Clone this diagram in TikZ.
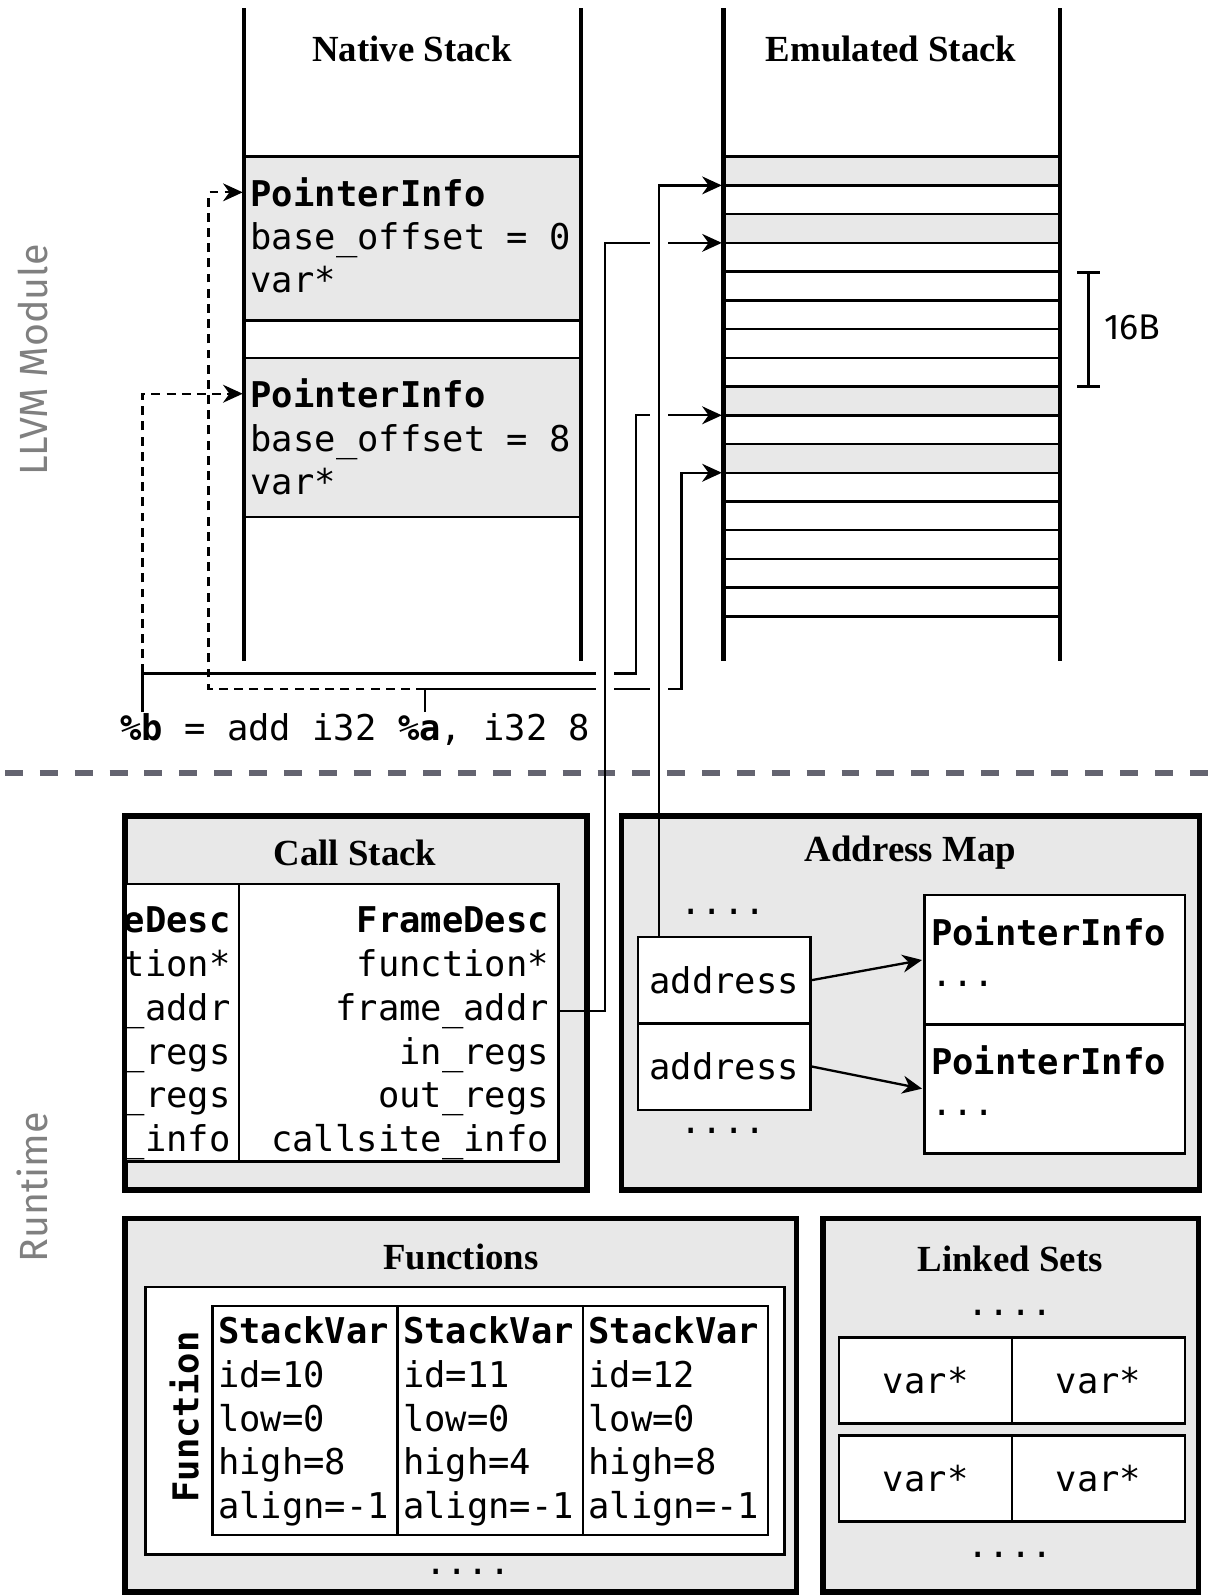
\documentclass[tikz,border=0pt]{standalone}
\usepackage{fontspec}
\setmainfont{Liberation Serif}
\setsansfont{Fira Sans}
\setmonofont{DejaVu Sans Mono}
\usetikzlibrary{arrows.meta, positioning, calc}
\definecolor{boxgray}{RGB}{232,232,232}
\definecolor{sidegray}{RGB}{128,128,128}
\definecolor{rulegray}{RGB}{100,100,112}
\newcommand{\codefont}{\ttfamily\fontsize{19.85pt}{24.5pt}\selectfont}
\newcommand{\bridge}[1]{\fill[white] (#1) ++(-9,-4.5) rectangle ++(18,9);}
\tikzset{
  title/.style={font=\bfseries\fontsize{20.6pt}{24pt}\selectfont, inner sep=0pt},
  code/.style={font=\codefont, inner sep=0pt},
  codeb/.style={font=\codefont\bfseries, inner sep=0pt},
  side/.style={font=\sffamily\fontsize{22pt}{26pt}\selectfont, text=sidegray, rotate=90, inner sep=0pt},
  stackline/.style={line width=2.6pt},
  rowline/.style={line width=1.4pt},
  panel/.style={draw, fill=boxgray, line width=3pt},
  cell/.style={draw, fill=white, line width=1.4pt, inner sep=0pt},
  conn/.style={line width=1.3pt},
  arrow/.style={conn, -{Stealth[length=11pt,width=10pt]}, shorten >=0.8pt},
  dasharrow/.style={arrow, dash pattern=on 5pt off 3.5pt},
  divider/.style={draw=rulegray, line width=3.4pt, dash pattern=on 10pt off 9.5pt}
}
\begin{document}
\begin{tikzpicture}[x=0.02cm, y=-0.02cm]
  \useasboundingbox (0,0) rectangle (1204,1568);

  % side labels and section divider
  \node[side] (lbl-llvm) at (32,354) {LLVM Module};
  \node[side] (lbl-rt) at (32,1167) {Runtime};
  \draw[divider] (5,760) -- (1204,760);

  % native stack
  \fill[boxgray] (240,154) rectangle (571,315);
  \fill[boxgray] (240,352) rectangle (571,508);
  \foreach \y in {154,315,352,508}
    \draw[rowline] (240,\y) -- (571,\y);
  \draw[stackline] (240,8) coordinate (nsl) -- (240,650);
  \draw[stackline] (571,8) -- (571,650);
  \node[title] (ns-title) at (405,48) {Native Stack};
  \node[codeb, anchor=base west] (pi1) at (246,203) {PointerInfo};
  \node[code, anchor=base west] (off1) at (246,245) {base\_offset = 0};
  \node[code, anchor=base west] (var1) at (246,288) {var*};
  \node[codeb, anchor=base west] (pi2) at (246,401) {PointerInfo};
  \node[code, anchor=base west] (off2) at (246,444) {base\_offset = 8};
  \node[code, anchor=base west] (var2) at (246,486) {var*};

  % emulated stack
  \foreach \i in {0,2,8,10}
    \fill[boxgray] (711,{154+28.25*\i}) rectangle (1042,{154+28.25*(\i+1)});
  \foreach \i in {0,...,16}
    \draw[rowline] (711,{154+28.25*\i}) coordinate (emu\i) -- (1042,{154+28.25*\i});
  \draw[stackline] (711,8) -- (711,650);
  \draw[stackline] (1042,8) -- (1042,650);
  \node[title] (es-title) at (876,48) {Emulated Stack};

  % 16B bracket
  \draw[conn] (1059,268) -- (1081,268) (1070,268) -- (1070,380) (1059,380) -- (1081,380);
  \node[font=\sffamily\fontsize{20pt}{24pt}\selectfont, anchor=west, inner sep=0pt] (lbl-16b) at (1085,322) {16B};

  % IR instruction
  \node[code, anchor=base west] (ir) at (118,728) {\textbf{\%b} = add i32 \textbf{\%a}, i32 8};
  \coordinate (bvar) at (140,700);
  \coordinate (avar) at (418,700);
  \coordinate (busd) at (205,0);
  \coordinate (busf) at (595,0);
  \coordinate (busb) at (625,0);
  \coordinate (busaddr) at (648,0);
  \coordinate (busa) at (670,0);
  \coordinate (lvb) at (0,662);
  \coordinate (lva) at (0,677);

  % call stack
  \draw[panel] (123,802) rectangle (577,1170);
  \node[title] (cs-title) at (349,838) {Call Stack};
  \begin{scope}
    \clip (125,860) rectangle (240,1150);
    \draw[cell] (-80,869) rectangle (235,1142);
    \node[codeb, anchor=base east] (fdl0) at (227,917) {FrameDesc};
    \foreach \txt [count=\k] in {function*, frame\_addr, in\_regs, out\_regs, callsite\_info}
      \node[code, anchor=base east] (fdl\k) at (227,{917+43*\k}) {\txt};
  \end{scope}
  \node[cell, minimum width=6.28cm, minimum height=5.46cm] (fdbox) at (392,1005.5) {};
  \node[codeb, anchor=base east] (fd0) at (540,917) {FrameDesc};
  \foreach \txt [count=\k] in {function*, frame\_addr, in\_regs, out\_regs, callsite\_info}
    \node[code, anchor=base east] (fd\k) at (540,{917+43*\k}) {\txt};

  % address map
  \draw[panel] (611,802) rectangle (1179,1170);
  \node[title] (am-title) at (895,838) {Address Map};
  \node[code, anchor=base] (am-dots1) at (711,899) {....};
  \node[cell, code, minimum width=3.4cm, minimum height=1.7cm] (addr1) at (712,963.5) {address};
  \node[cell, code, minimum width=3.4cm, minimum height=1.7cm] (addr2) at (712,1048.5) {address};
  \node[code, anchor=base] (am-dots2) at (711,1114) {....};
  \node[cell, minimum width=5.12cm, minimum height=2.54cm] (pinfo1) at (1037,943.5) {};
  \node[cell, minimum width=5.12cm, minimum height=2.54cm] (pinfo2) at (1037,1070.5) {};
  \node[codeb, anchor=base west] (pinfo1-t) at (915,929) {PointerInfo};
  \node[code, anchor=base west] (pinfo1-d) at (915,970) {...};
  \node[codeb, anchor=base west] (pinfo2-t) at (915,1056) {PointerInfo};
  \node[code, anchor=base west] (pinfo2-d) at (915,1097) {...};
  \draw[arrow] (addr1.east) -- (pinfo1.west);
  \draw[arrow] (addr2.east) -- (pinfo2.west);

  % functions
  \draw[panel] (123,1198) rectangle (783,1565);
  \node[title] (fn-title) at (453,1236) {Functions};
  \draw[cell] (143,1265) rectangle (771,1528);
  \node[codeb, rotate=90] (fn-label) at (181,1393) {Function};
  \foreach \c/\x/\id/\hi in {1/209/10/8, 2/391/11/4, 3/573/12/8} {
    \draw[cell] (\x,1284) rectangle ++(182,225);
    \node[codeb, anchor=base west] (sv\c-0) at (\x+5,1321) {StackVar};
    \node[code, anchor=base west] (sv\c-1) at (\x+5,1364) {id=\id};
    \node[code, anchor=base west] (sv\c-2) at (\x+5,1407) {low=0};
    \node[code, anchor=base west] (sv\c-3) at (\x+5,1450) {high=\hi};
    \node[code, anchor=base west] (sv\c-4) at (\x+5,1493) {align=-1};
  }
  \node[code, anchor=base] (fn-dots) at (460,1548) {....};

  % linked sets
  \draw[panel] (809,1198) rectangle (1178,1565);
  \node[title] (ls-title) at (993,1238) {Linked Sets};
  \node[code, anchor=base] (ls-dots1) at (993,1293) {....};
  \foreach \r/\y in {1/1357, 2/1453.5} {
    \node[cell, code, minimum width=3.4cm, minimum height=1.69cm] (ls\r a) at (910,\y) {var*};
    \node[cell, code, minimum width=3.4cm, minimum height=1.69cm] (ls\r b) at (1080,\y) {var*};
  }
  \node[code, anchor=base] (ls-dots2) at (993,1531) {....};

  % links from the instruction
  \draw[arrow] (bvar) |- (busb |- lvb) -- (busb |- emu9) -- (emu9);
  \draw[dasharrow] (bvar |- lvb) |- (nsl |- pi2.west);
  \draw[arrow] (avar) |- (busa |- lva) -- (busa |- emu11) -- (emu11);
  \draw[dasharrow] (avar |- lva) -- (busd |- lva) |- (nsl |- pi1.west);
  \bridge{busf |- lvb}
  \bridge{busf |- lva}
  \bridge{busaddr |- lva}
  \bridge{busaddr |- emu9}

  % runtime links
  \draw[arrow] (fdbox.east |- fd2) -| (busf |- emu3) -- (emu3);
  \bridge{busaddr |- emu3}
  \draw[arrow] (addr1.north -| busaddr) |- (emu1);
\end{tikzpicture}
\end{document}
